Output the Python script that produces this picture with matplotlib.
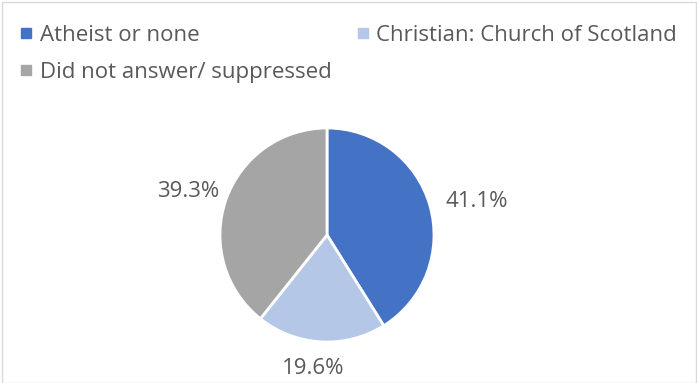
import matplotlib.pyplot as plt
from matplotlib.lines import Line2D
from matplotlib.patches import Rectangle

plt.rcParams['font.family'] = ['Open Sans', 'DejaVu Sans']

labels = ['Atheist or none', 'Christian: Church of Scotland', 'Did not answer/ suppressed']
values = [41.1, 19.6, 39.3]
colors = ['#4472C4', '#B4C7E7', '#A5A5A5']
# label positions in pie-radius units (Excel "best fit" placement)
label_pos = [(1.40, 0.31), (-0.13, -1.25), (-1.30, 0.41)]
text_color = '#595959'

W, H = 697, 383
fig = plt.figure(figsize=(W / 100, H / 100), dpi=100)

# light border around chart area
fig.patches.append(Rectangle((1.5 / W, 0), (W - 3) / W, (H - 1.5) / H, transform=fig.transFigure,
                             fill=False, edgecolor='#D9D9D9', linewidth=1))

cx, cy, r = 327, 235, 107
ax = fig.add_axes([(cx - r) / W, (H - cy - r) / H, 2 * r / W, 2 * r / H])
wedges, _ = ax.pie(values, colors=colors, startangle=90, counterclock=False,
                   wedgeprops=dict(edgecolor='white', linewidth=2))
ax.set_xlim(-1, 1)
ax.set_ylim(-1, 1)
ax.set_aspect('auto')
ax.axis('off')

for (x, y), v in zip(label_pos, values):
    ax.text(x, y, f'{v:.1f}%', ha='center', va='center',
            fontsize=16, color=text_color, clip_on=False)

handles = [Line2D([], [], marker='s', linestyle='none', markersize=7, color=c) for c in colors]
order = [0, 2, 1]
leg = fig.legend([handles[i] for i in order], [labels[i] for i in order], ncol=2,
                 loc='upper left', bbox_to_anchor=(12 / W, 1 - 16 / H), frameon=False,
                 fontsize=16, handlelength=0.5, handletextpad=0.35, columnspacing=1.15,
                 labelspacing=0.72, borderaxespad=0)
for t in leg.get_texts():
    t.set_color(text_color)

fig.savefig('out.png', dpi=100)
